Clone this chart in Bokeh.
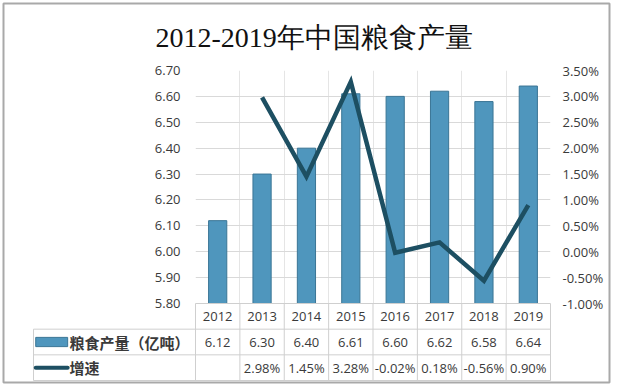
from bokeh.plotting import figure
from bokeh.models import Range1d, LinearAxis, PrintfTickFormatter, FixedTicker, ColumnDataSource
from bokeh.core.properties import value
from bokeh.embed import file_html
from bokeh.resources import INLINE

# ---------------- data ----------------
title_text = "2012-2019年中国粮食产量"
years = ["2012", "2013", "2014", "2015", "2016", "2017", "2018", "2019"]
production = [6.12, 6.30, 6.40, 6.61, 6.60, 6.62, 6.58, 6.64]          # 亿吨
growth = [None, 2.98, 1.45, 3.28, -0.02, 0.18, -0.56, 0.90]            # %
left_ticks = [5.80, 5.90, 6.00, 6.10, 6.20, 6.30, 6.40, 6.50, 6.60, 6.70]
right_ticks = [-1.00, -0.50, 0.00, 0.50, 1.00, 1.50, 2.00, 2.50, 3.00, 3.50]
series_names = ["粮食产量（亿吨）", "增速"]

# ---------------- style / layout ----------------
W, H = 611, 384
MB_L, MB_R, MB_T, MB_B = 195, 61, 70, 81
ROW_H = 77 / 3.0                      # table row height in px
COL_W = (W - MB_L - MB_R) / 8.0       # column width in px
BAR_FILL = "#4f96bd"
BAR_LINE = "#3a7595"
LINE_COLOR = "#1d4f62"
GRID = "#d9d9d9"
TBL = "#cfcfcf"
TXT = "#3a3a3a"
FONT = "Open Sans"
CJK = "Noto Sans CJK SC"

n = len(years)
xc = [i + 0.5 for i in range(n)]
frame_h = H - MB_T - MB_B
legend_cols = 162 / COL_W             # width of legend column in column units

p = figure(width=W, height=H, x_range=Range1d(0, n),
           y_range=Range1d(left_ticks[0], left_ticks[-1]),
           output_backend="svg", toolbar_location=None,
           x_axis_location=None, y_axis_location="left",
           min_border_left=MB_L, min_border_right=MB_R,
           min_border_top=MB_T, min_border_bottom=MB_B,
           title=title_text)
p.outline_line_color = None
p.background_fill_color = "white"
p.border_fill_color = "white"

p.title.align = "left"
p.title.offset = -40
p.title.standoff = 36
p.title.text_font = "Liberation Serif"
p.title.text_font_size = "28px"
p.title.text_font_style = "normal"
p.title.text_color = "#111111"

p.extra_y_ranges = {
    "pct": Range1d(right_ticks[0], right_ticks[-1]),
    "tbl": Range1d(3, 3 + frame_h / ROW_H),
}

ly = p.yaxis[0]
ly.ticker = FixedTicker(ticks=left_ticks)
ly.formatter = PrintfTickFormatter(format="%.2f")
ry = LinearAxis(y_range_name="pct")
ry.ticker = FixedTicker(ticks=right_ticks)
ry.formatter = PrintfTickFormatter(format="%.2f%%")
p.add_layout(ry, "right")
for ax, so in ((ly, 15), (ry, 12)):
    ax.axis_line_color = None
    ax.major_tick_line_color = None
    ax.minor_tick_line_color = None
    ax.major_tick_out = 0
    ax.major_tick_in = 0
    ax.major_label_standoff = so
    ax.major_label_text_font = FONT
    ax.major_label_text_font_size = "13px"
    ax.major_label_text_color = TXT

p.ygrid.ticker = FixedTicker(ticks=left_ticks)
p.ygrid.grid_line_color = GRID
p.ygrid.grid_line_width = 1

# bars + growth line
src = ColumnDataSource(dict(x=xc, top=production, year=years))
p.vbar(x="x", top="top", bottom=left_ticks[0], width=0.41, source=src,
       fill_color=BAR_FILL, line_color=BAR_LINE, line_width=1)

gx = [xc[i] for i in range(n) if growth[i] is not None]
gy = [g for g in growth if g is not None]
p.line(gx, gy, y_range_name="pct", line_color=LINE_COLOR, line_width=4.5,
       line_join="miter")

# ---------------- data table (below the plot area) ----------------
T = dict(y_range_name="tbl", level="overlay")
hx0 = [0] + [-legend_cols] * 3
hx1 = [n] * 4
hy = [3, 2, 1, 0]
p.segment(x0=hx0, y0=hy, x1=hx1, y1=hy, line_color=TBL, line_width=1, **T)
vx = list(range(n + 1)) + [-legend_cols]
vy1 = [3] * (n + 1) + [2]
p.segment(x0=vx, y0=[0] * len(vx), x1=vx, y1=vy1, line_color=TBL, line_width=1, **T)

prod_lbl = ["%.2f" % v for v in production]
gr_lbl = ["" if g is None else "%.2f%%" % g for g in growth]
for yy, labels in ((2.5, years), (1.5, prod_lbl), (0.5, gr_lbl)):
    p.text(x=xc, y=[yy] * n, text=labels, text_align="center", text_baseline="middle",
           text_font=value(FONT), text_font_size="13px", text_color=TXT, **T)

# legend keys inside the table
kx0 = -legend_cols + 0.05
kx1 = -legend_cols + 0.77
p.quad(left=[kx0], right=[kx1], bottom=[1.32], top=[1.68],
       fill_color=BAR_FILL, line_color=BAR_LINE, **T)
p.segment(x0=[kx0], y0=[0.5], x1=[kx1], y1=[0.5], line_color=LINE_COLOR,
          line_width=4, line_cap="round", **T)
p.text(x=[kx1 + 0.04] * 2, y=[1.5, 0.5], text=series_names, text_align="left",
       text_baseline="middle", text_font=value(CJK), text_font_size="15px",
       text_font_style="bold", text_color=TXT, **T)

# outer frame of the picture (just inside the canvas edge)
inset = 2
bx0 = (inset + 1 - MB_L) / COL_W
bx1 = (W - inset - MB_L) / COL_W
by0 = 3 - (MB_B - inset) / ROW_H
by1 = 3 + (H - MB_B - inset - 1) / ROW_H
p.quad(left=[bx0], right=[bx1], bottom=[by0], top=[by1], fill_color=None,
       line_color="#a9a9a9", line_width=2, **T)

open("out.html", "w").write(file_html(p, INLINE))
